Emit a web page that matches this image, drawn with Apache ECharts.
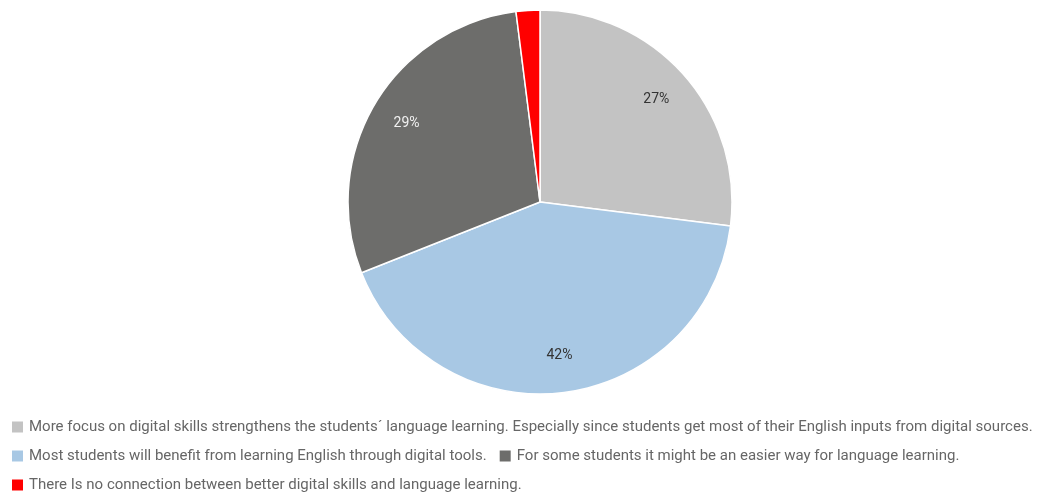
<!DOCTYPE html>
<html>
<head>
<meta charset="utf-8">
<script src="https://cdn.jsdelivr.net/npm/echarts@6/dist/echarts.min.js"></script>
<style>
  html, body { margin: 0; padding: 0; background: #ffffff; }
  #chart { width: 1040px; height: 493px; }
</style>
</head>
<body>
<div id="chart"></div>
<script>
// Survey answers on digital skills and language learning (share of respondents, %)
const categories = [
  'More focus on digital skills strengthens the students\u00b4 language learning. Especially since students get most of their English inputs from digital sources.',
  'Most students will benefit from learning English through digital tools.',
  'For some students it might be an easier way for language learning.',
  'There Is no connection between better digital skills and language learning.'
];
const shares = [27, 42, 29, 2];
const colors = ['#c3c3c3', '#a8c8e4', '#6d6d6b', '#ff0000'];
const labelColors = ['#333333', '#333333', '#f0f0f0', '#333333'];

const pieData = categories.map((name, i) => ({ name, value: shares[i] }));
const labelData = categories.map((name, i) => ({
  name,
  value: shares[i],
  label: { show: i < 3, color: labelColors[i] }
}));

const chart = echarts.init(document.getElementById('chart'), null, { renderer: 'canvas' });
chart.setOption({
  animation: false,
  color: colors,
  legend: {
    data: categories,
    left: 5,
    right: 0,
    top: 413,
    orient: 'horizontal',
    itemWidth: 13,
    itemHeight: 13,
    itemGap: 11,
    icon: 'rect',
    textStyle: {
      fontFamily: 'Roboto',
      fontSize: 15,
      color: '#666666',
      lineHeight: 18
    }
  },
  series: [
    {
      type: 'pie',
      center: [540, 202],
      radius: [0, 192],
      startAngle: 90,
      clockwise: true,
      data: pieData,
      label: { show: false },
      labelLine: { show: false },
      itemStyle: { borderColor: '#ffffff', borderWidth: 1.5 },
      emphasis: { disabled: true }
    },
    {
      // transparent ring that carries the percentage labels at ~80% of the radius
      type: 'pie',
      center: [540, 202],
      radius: [112, 192],
      startAngle: 90,
      clockwise: true,
      silent: true,
      data: labelData,
      itemStyle: { color: 'rgba(0,0,0,0)', borderWidth: 0 },
      label: {
        show: true,
        position: 'inside',
        formatter: '{c}%',
        fontFamily: 'Roboto',
        fontSize: 14
      },
      labelLine: { show: false },
      emphasis: { disabled: true },
      legendHoverLink: false
    }
  ]
});
</script>
</body>
</html>
